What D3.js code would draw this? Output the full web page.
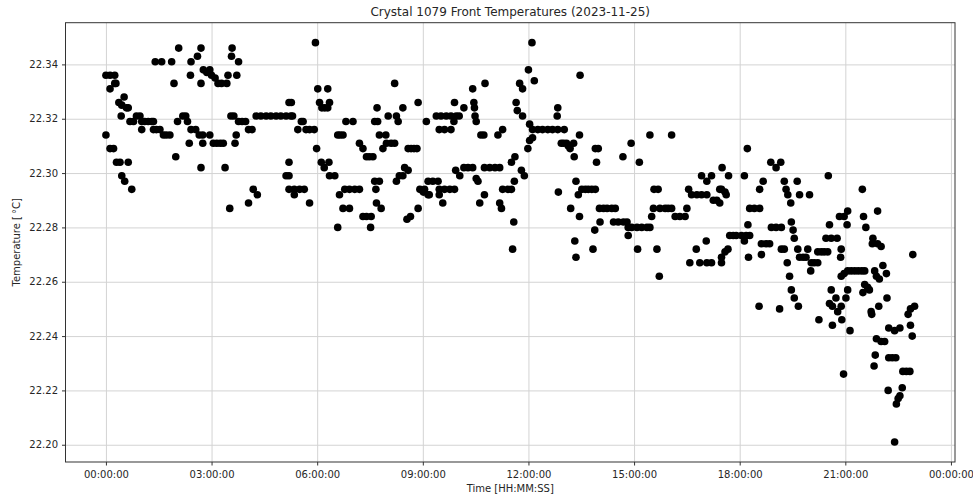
<!DOCTYPE html>
<html>
<head>
<meta charset="utf-8">
<title>Crystal 1079 Front Temperatures (2023-11-25)</title>
<script src="https://cdn.jsdelivr.net/npm/d3@7"></script>
<style>
  body { margin: 0; background: #fff; }
  text { font-family: "DejaVu Sans", sans-serif; fill: #262626; }
  .grid line { stroke: #d3d3d3; stroke-width: 1; }
  .grid path { display: none; }
  .axis path { display: none; }
  .axis line { stroke: #333; }
  .axis text { font-size: 10px; fill: #262626; }
  .frame { fill: none; stroke: #333; stroke-width: 1; }
</style>
</head>
<body>
<script>
// readings: [minutes after midnight, temperature in degC]
var block00 = [[0,22.336],[0,22.314],[7,22.336],[7,22.331],[7,22.309],[13,22.309],[15,22.336],[15,22.333],[17,22.333],[18,22.304],
  [22,22.326],[24,22.304],[26,22.321],[27,22.325],[27,22.299],[31,22.328],[32,22.297],[35,22.324],[38,22.324],[38,22.304],
  [41,22.319],[44,22.294],[47,22.319],[52,22.321],[58,22.321],[61,22.319],[61,22.316],[66,22.319],[72,22.319],[78,22.319],
  [81,22.319],[81,22.316],[84,22.341],[86,22.316],[92,22.316],[95,22.341],[98,22.314],[103,22.314],[109,22.314],[112,22.341],
  [116,22.333],[119,22.306],[122,22.319],[124,22.346],[131,22.321],[136,22.321],[139,22.319],[142,22.311],[144,22.336],[145,22.341],
  [145,22.316],[153,22.316],[156,22.343],[159,22.314],[162,22.346],[162,22.333],[162,22.302],[165,22.314],[165,22.311],[166,22.338],
  [172,22.337],[177,22.338],[177,22.314]];
var block03 = [[180,22.336],[183,22.311],[186,22.335],[189,22.311],[191,22.333],[195,22.311],[197,22.333],[200,22.311],[203,22.302],
  [206,22.333],[208,22.336],[211,22.287],[213,22.321],[214,22.343],[215,22.346],[218,22.321],[220,22.311],[222,22.314],[223,22.336],
  [226,22.341],[226,22.319],[232,22.319],[238,22.319],[243,22.316],[243,22.289],[249,22.316],[251,22.294],[256,22.321],[258,22.292],
  [264,22.321],[273,22.321],[281,22.321],[290,22.321],[298,22.321],[307,22.321],[307,22.299],[312,22.326],[312,22.304],[312,22.299],
  [312,22.294],[315,22.321],[316,22.326],[318,22.321],[321,22.294],[321,22.292],[327,22.316],[330,22.294],[333,22.319],[336,22.319],
  [338,22.294],[341,22.316],[347,22.316],[347,22.289],[355,22.316],[357,22.348],[359,22.309]];
var block06 = [[361,22.331],[364,22.326],[367,22.304],[368,22.324],[372,22.302],[373,22.324],[378,22.324],[378,22.331],[380,22.304],
  [381,22.326],[381,22.299],[390,22.299],[395,22.314],[395,22.280],[398,22.292],[399,22.314],[404,22.314],[404,22.287],[407,22.294],
  [409,22.319],[415,22.294],[415,22.287],[421,22.319],[424,22.294],[432,22.294],[432,22.311],[438,22.309],[438,22.284],[444,22.306],
  [444,22.284],[449,22.306],[451,22.280],[452,22.284],[455,22.306],[458,22.319],[458,22.297],[460,22.294],[461,22.289],[462,22.324],
  [463,22.319],[466,22.297],[466,22.314],[469,22.287],[472,22.309],[477,22.314],[478,22.311],[481,22.321],[486,22.311],[492,22.311],
  [492,22.333],[495,22.321],[495,22.297],[498,22.319],[500,22.299],[506,22.324],[506,22.299],[509,22.302],[513,22.283],[515,22.309],
  [515,22.301],[519,22.284],[520,22.309],[525,22.309],[530,22.309],[532,22.326],[532,22.287],[535,22.294]];
var block09 = [[541,22.293],[543,22.294],[546,22.319],[549,22.292],[549,22.297],[551,22.292],[557,22.297],[563,22.321],[566,22.297],
  [568,22.316],[568,22.294],[568,22.292],[571,22.321],[574,22.289],[577,22.316],[577,22.294],[580,22.321],[586,22.294],[588,22.321],
  [588,22.316],[593,22.319],[594,22.326],[594,22.294],[596,22.301],[597,22.321],[602,22.321],[603,22.299],[610,22.324],[610,22.302],
  [617,22.302],[625,22.302],[625,22.331],[627,22.326],[628,22.324],[629,22.321],[631,22.319],[631,22.298],[634,22.297],[637,22.289],
  [639,22.314],[644,22.314],[645,22.292],[645,22.302],[646,22.333],[654,22.302],[663,22.302],[668,22.314],[671,22.302],[671,22.289],
  [674,22.287],[676,22.316],[676,22.294],[685,22.294],[691,22.294],[691,22.304],[693,22.272],[695,22.282],[696,22.297],[697,22.306],
  [699,22.326],[701,22.323],[705,22.333],[708,22.301],[710,22.331],[710,22.321],[713,22.299]];
var block12 = [[719,22.309],[720,22.338],[722,22.312],[722,22.318],[726,22.348],[727,22.316],[727,22.313],[730,22.334],[736,22.316],
  [744,22.316],[753,22.316],[761,22.316],[769,22.321],[770,22.324],[770,22.316],[771,22.293],[776,22.311],[781,22.316],[780,22.311],
  [785,22.311],[788,22.310],[791,22.309],[792,22.287],[797,22.311],[798,22.306],[799,22.275],[801,22.297],[801,22.269],[805,22.292],
  [807,22.314],[807,22.284],[808,22.336],[811,22.294],[817,22.294],[822,22.294],[828,22.294],[830,22.272],[833,22.279],[834,22.294],
  [834,22.309],[836,22.304],[839,22.309],[841,22.287],[842,22.282],[848,22.287],[854,22.287],[862,22.287],[865,22.282],[868,22.287],
  [873,22.282],[881,22.306],[882,22.282],[888,22.282],[890,22.280],[890,22.277],[895,22.311],[896,22.280]];
var block15 = [[905,22.280],[906,22.272],[909,22.304],[913,22.280],[922,22.280],[927,22.280],[927,22.314],[930,22.284],[933,22.287],
  [934,22.294],[939,22.272],[941,22.294],[943,22.262],[944,22.287],[953,22.287],[958,22.287],[964,22.287],[964,22.314],[970,22.284],
  [978,22.284],[987,22.284],[990,22.287],[993,22.294],[995,22.267],[998,22.292],[1006,22.272],[1007,22.292],[1012,22.267],[1015,22.292],
  [1015,22.299],[1023,22.275],[1024,22.292],[1024,22.297],[1024,22.267],[1032,22.299],[1032,22.267],[1035,22.290],[1041,22.290],
  [1046,22.289],[1046,22.294],[1049,22.294],[1049,22.269],[1049,22.267],[1050,22.302],[1055,22.293],[1055,22.271],[1057,22.292],
  [1060,22.272],[1061,22.299],[1063,22.277],[1069,22.277],[1074,22.277]];
var block18 = [[1083,22.277],[1088,22.299],[1088,22.275],[1091,22.277],[1093,22.309],[1094,22.281],[1095,22.269],[1097,22.277],
  [1097,22.287],[1105,22.287],[1113,22.251],[1114,22.287],[1114,22.294],[1117,22.274],[1117,22.270],[1120,22.297],[1125,22.274],
  [1131,22.274],[1133,22.304],[1134,22.280],[1142,22.302],[1142,22.280],[1148,22.250],[1150,22.304],[1151,22.280],[1151,22.272],
  [1156,22.297],[1156,22.272],[1159,22.294],[1161,22.267],[1162,22.292],[1165,22.262],[1167,22.289],[1168,22.282],[1168,22.257],
  [1171,22.279],[1173,22.276],[1173,22.254],[1178,22.297],[1179,22.272],[1180,22.251],[1182,22.292],[1182,22.269],[1188,22.269],
  [1193,22.269],[1196,22.272],[1199,22.292],[1201,22.264],[1202,22.267],[1207,22.267],[1213,22.267],[1213,22.271],[1215,22.246],
  [1219,22.271],[1224,22.271],[1227,22.276],[1230,22.271],[1231,22.299],[1233,22.281],[1233,22.252],[1236,22.276],[1236,22.257],
  [1238,22.251],[1238,22.244],[1244,22.254],[1246,22.276],[1247,22.249],[1250,22.284],[1252,22.269],[1253,22.272],[1253,22.262],
  [1253,22.251],[1254,22.246],[1257,22.226],[1258,22.284]];
var block21 = [[1258,22.263],[1261,22.254],[1263,22.281],[1264,22.286],[1264,22.257],[1264,22.264],[1268,22.242],[1270,22.264],
  [1276,22.264],[1282,22.264],[1288,22.264],[1289,22.294],[1290,22.256],[1291,22.284],[1293,22.264],[1293,22.259],[1295,22.280],
  [1298,22.258],[1301,22.257],[1304,22.249],[1305,22.248],[1306,22.274],[1307,22.276],[1309,22.229],[1310,22.264],[1311,22.233],
  [1313,22.262],[1313,22.239],[1315,22.286],[1315,22.274],[1317,22.251],[1318,22.261],[1321,22.273],[1321,22.238],[1324,22.266],
  [1327,22.238],[1330,22.263],[1331,22.254],[1333,22.220],[1334,22.243],[1334,22.232],[1340,22.232],[1344,22.242],[1344,22.201],
  [1346,22.232],[1347,22.215],[1350,22.217],[1353,22.243],[1353,22.218],[1357,22.221],[1358,22.227],[1364,22.227],[1367,22.248],
  [1370,22.227],[1371,22.250],[1371,22.244],[1374,22.240],[1375,22.270],[1378,22.251]];

var readings = [].concat(block00, block03, block06, block09, block12, block15, block18, block21);

var tickHours = [0, 3, 6, 9, 12, 15, 18, 21, 24];
var yTicks = [22.20, 22.22, 22.24, 22.26, 22.28, 22.30, 22.32, 22.34];

var titleText = "Crystal 1079 Front Temperatures (2023-11-25)";
var xLabel = "Time [HH:MM:SS]";
var yLabel = "Temperature [\u2009\u00b0C]";

var width = 973, height = 497;
var margin = {top: 22.7, right: 18, bottom: 35, left: 65.5};
var innerW = width - margin.left - margin.right,
    innerH = height - margin.top - margin.bottom;

var day = Date.UTC(2023, 10, 25);
function toDate(min) { return new Date(day + min * 60000); }

// matplotlib style 5% padding round the data
var xExt = d3.extent(readings, function (d) { return d[0]; });
var xPad = (xExt[1] - xExt[0]) * 0.05;
var yExt = d3.extent(readings, function (d) { return d[1]; });
var yPad = (yExt[1] - yExt[0]) * 0.05;

var x = d3.scaleUtc()
    .domain([toDate(xExt[0] - xPad), toDate(xExt[1] + xPad)])
    .range([0, innerW]);

var y = d3.scaleLinear()
    .domain([yExt[0] - yPad, yExt[1] + yPad])
    .range([innerH, 0]);

var xTickDates = tickHours.map(function (h) { return toDate(h * 60); });

var svg = d3.select("body").append("svg")
    .attr("width", width)
    .attr("height", height);

var g = svg.append("g")
    .attr("transform", "translate(" + margin.left + "," + margin.top + ")");

// grid
g.append("g")
    .attr("class", "grid")
    .attr("transform", "translate(0," + innerH + ")")
    .call(d3.axisBottom(x).tickValues(xTickDates).tickSize(-innerH).tickFormat(""));

g.append("g")
    .attr("class", "grid")
    .call(d3.axisLeft(y).tickValues(yTicks).tickSize(-innerW).tickFormat(""));

// points
g.append("g")
    .selectAll("circle")
    .data(readings)
    .enter().append("circle")
    .attr("cx", function (d) { return x(toDate(d[0])); })
    .attr("cy", function (d) { return y(d[1]); })
    .attr("r", 3.8)
    .attr("fill", "#000");

g.append("rect")
    .attr("class", "frame")
    .attr("width", innerW)
    .attr("height", innerH);

// axes
var xAxis = g.append("g")
    .attr("class", "axis")
    .attr("transform", "translate(0," + innerH + ")")
    .call(d3.axisBottom(x).tickValues(xTickDates)
        .tickFormat(d3.utcFormat("%H:%M:%S"))
        .tickSize(3.5).tickPadding(5));

var yAxis = g.append("g")
    .attr("class", "axis")
    .call(d3.axisLeft(y).tickValues(yTicks)
        .tickFormat(d3.format(".2f"))
        .tickSize(3.5).tickPadding(4));

// labels
svg.append("text")
    .attr("x", margin.left + innerW / 2)
    .attr("y", 16)
    .attr("text-anchor", "middle")
    .style("font-size", "12px")
    .text(titleText);

svg.append("text")
    .attr("x", margin.left + innerW / 2)
    .attr("y", 492)
    .attr("text-anchor", "middle")
    .style("font-size", "10px")
    .text(xLabel);

svg.append("text")
    .attr("transform", "translate(20," + (margin.top + innerH / 2) + ") rotate(-90)")
    .attr("text-anchor", "middle")
    .style("font-size", "10px")
    .text(yLabel);
</script>
</body>
</html>
